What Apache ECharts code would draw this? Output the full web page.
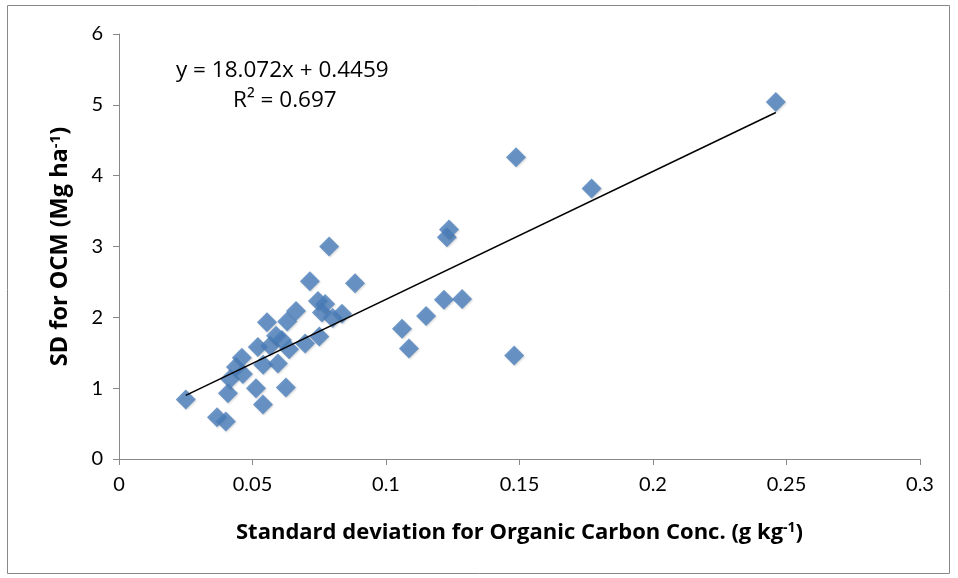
<!DOCTYPE html>
<html>
<head>
<meta charset="utf-8">
<script src="https://cdn.jsdelivr.net/npm/echarts@6/dist/echarts.min.js"></script>
<style>
  html, body { margin: 0; padding: 0; background: #fff; }
  #chart { width: 958px; height: 578px; }
</style>
</head>
<body>
<div id="chart"></div>
<script>
// SD of organic carbon conc. (x) vs SD for OCM (y)
const sdOC = [
  0.025, 0.0367, 0.040, 0.0408, 0.0416, 0.0438, 0.046, 0.0464, 0.0513, 0.0539,
  0.052, 0.054, 0.0554, 0.0566, 0.0588, 0.0595, 0.061, 0.0625, 0.063, 0.0637,
  0.0663, 0.0697, 0.0715, 0.0745, 0.076, 0.0772, 0.075, 0.0787, 0.080, 0.0835,
  0.0884, 0.106, 0.1086, 0.115, 0.1217, 0.1228, 0.1236, 0.1285, 0.148, 0.1487,
  0.177, 0.246
];
const sdOCM = [
  0.84, 0.59, 0.53, 0.93, 1.13, 1.30, 1.43, 1.20, 1.00, 0.77,
  1.58, 1.33, 1.93, 1.60, 1.74, 1.35, 1.68, 1.01, 1.94, 1.55,
  2.09, 1.63, 2.51, 2.23, 2.07, 2.19, 1.73, 3.00, 1.99, 2.05,
  2.48, 1.84, 1.56, 2.02, 2.25, 3.13, 3.24, 2.26, 1.46, 4.26,
  3.82, 5.04
];
// linear trendline y = 18.072x + 0.4459
const slope = 18.072;
const intercept = 0.4459;
const trendX = [0.025, 0.246];
const xTicks = [0, 0.05, 0.1, 0.15, 0.2, 0.25, 0.3];
const yTicks = [0, 1, 2, 3, 4, 5, 6];

const points = sdOC.map((x, i) => [x, sdOCM[i]]);
const trend = trendX.map(x => [x, slope * x + intercept]);

const font = 'Lato, "Open Sans", sans-serif';
const titleFont = '"Open Sans", Lato, sans-serif';
const mycharts = echarts.init(document.getElementById('chart'), null, { renderer: 'canvas' });
const option = {
  backgroundColor: '#fff',
  animation: false,
  textStyle: { fontFamily: font },
  graphic: [
    {
      type: 'rect',
      shape: { x: 7.5, y: 5.5, width: 942, height: 568 },
      style: { fill: 'none', stroke: '#888', lineWidth: 1 },
      silent: true
    },
    {
      type: 'text',
      left: 176, top: 59,
      style: { text: 'y = 18.072x + 0.4459', fontSize: 22.5, fontFamily: titleFont, fill: '#000' }
    },
    {
      type: 'text',
      left: 233, top: 89,
      style: { text: 'R² = 0.697', fontSize: 22.5, fontFamily: titleFont, fill: '#000' }
    }
  ],
  grid: { left: 119, right: 38, top: 34, bottom: 119 },
  xAxis: {
    type: 'value',
    min: 0, max: 0.3, interval: 0.05,
    splitLine: { show: false },
    axisLine: { lineStyle: { color: '#888', width: 1 } },
    axisTick: { show: true, inside: false, length: 6, lineStyle: { color: '#888' } },
    axisLabel: {
      color: '#000', fontSize: 20, margin: 16,
      formatter: v => String(xTicks.find(t => Math.abs(t - v) < 1e-9) ?? v)
    },
    name: '{b|Standard deviation for Organic Carbon Conc. (g kg}{s|-1}{b|)}',
    nameLocation: 'middle',
    nameGap: 62,
    nameTextStyle: {
      rich: {
        b: { fontSize: 22, fontWeight: 'bold', color: '#000', fontFamily: titleFont },
        s: { fontSize: 14, fontWeight: 'bold', color: '#000', fontFamily: titleFont, verticalAlign: 'top', padding: [0, 0, 10, 0] }
      }
    }
  },
  yAxis: {
    type: 'value',
    min: 0, max: 6, interval: 1,
    splitLine: { show: false },
    axisLine: { show: true, lineStyle: { color: '#888', width: 1 } },
    axisTick: { show: true, inside: false, length: 6, lineStyle: { color: '#888' } },
    axisLabel: {
      color: '#000', fontSize: 20, margin: 16,
      formatter: v => String(yTicks.find(t => t === v) ?? v)
    },
    name: '{b|SD for OCM (Mg ha}{s|-1}{b|)}',
    nameLocation: 'middle',
    nameRotate: 90,
    nameGap: 46,
    nameTextStyle: {
      rich: {
        b: { fontSize: 23.5, fontWeight: 'bold', color: '#000', fontFamily: titleFont },
        s: { fontSize: 15, fontWeight: 'bold', color: '#000', fontFamily: titleFont, verticalAlign: 'top', padding: [0, 0, 10, 0] }
      }
    }
  },
  series: [
    {
      type: 'scatter',
      data: points,
      symbol: 'diamond',
      symbolSize: [20, 20],
      itemStyle: { color: '#4a7ebb', shadowColor: 'rgba(0,0,0,0.2)', shadowBlur: 2, shadowOffsetX: 1, shadowOffsetY: 1 },
      z: 2
    },
    {
      type: 'line',
      data: trend,
      symbol: 'none',
      lineStyle: { color: '#000', width: 1.5 },
      z: 3
    }
  ]
};
mycharts.setOption(option);
</script>
</body>
</html>
